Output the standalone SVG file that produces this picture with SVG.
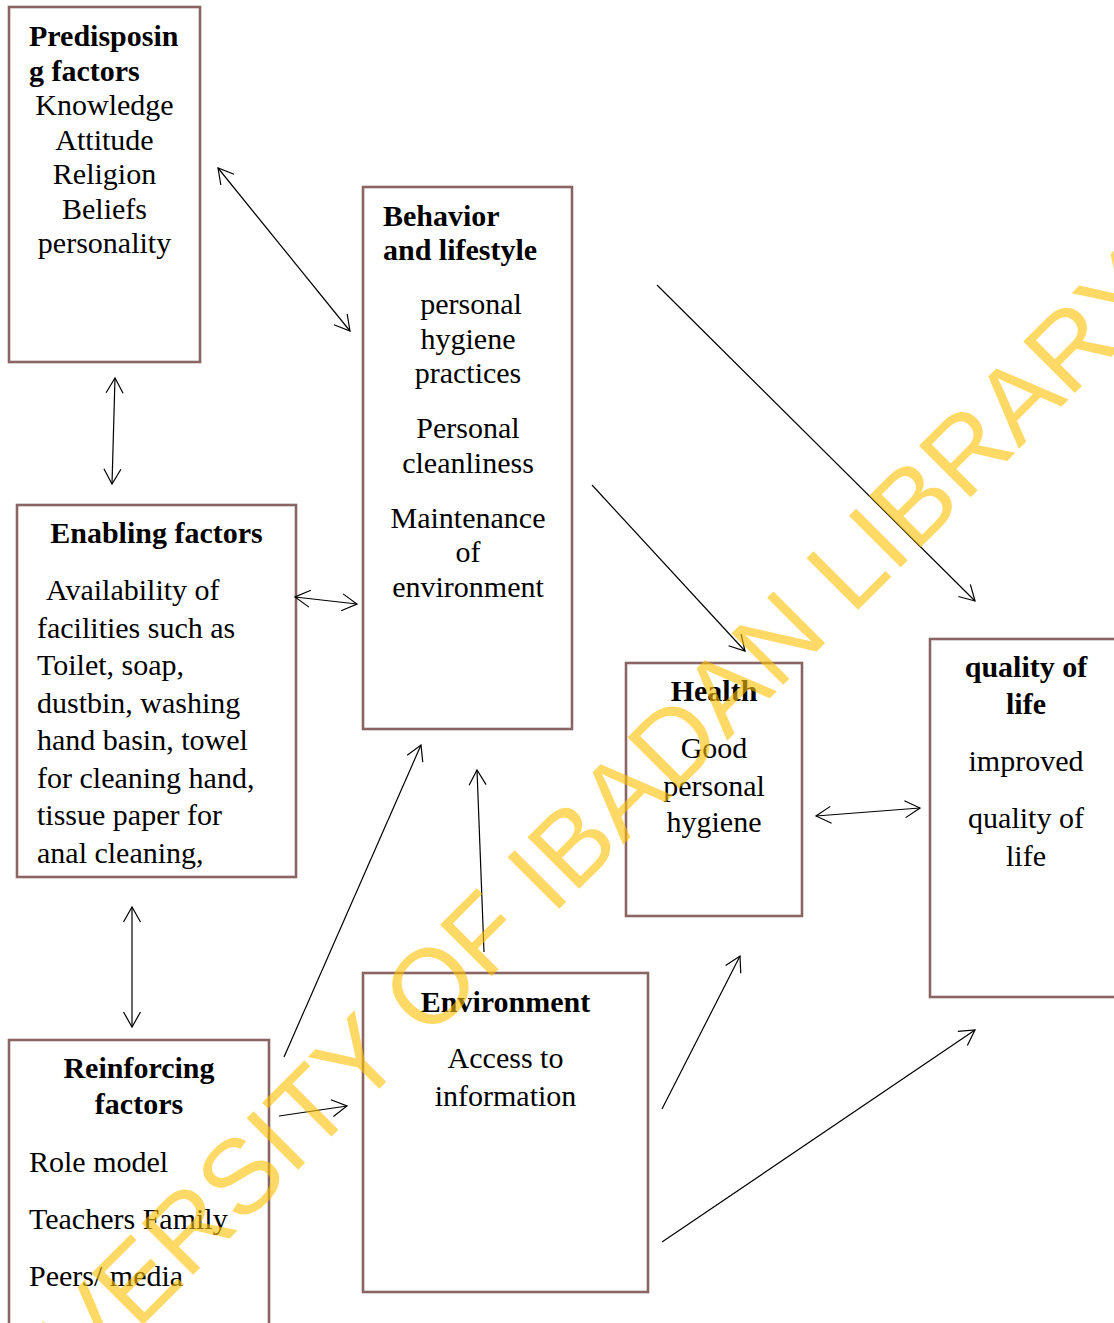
<svg xmlns="http://www.w3.org/2000/svg" width="1114" height="1323" viewBox="0 0 1114 1323">
<defs>
<style>
.box{fill:#fff;stroke:#8b6464;stroke-width:2.6}
.t{font-family:"Liberation Serif","Times New Roman",serif;font-size:30px;fill:#000}
.b{font-weight:bold}
.c{text-anchor:middle}
.ln{stroke:#000;stroke-width:1.2;fill:none}
.wm{font-family:"Liberation Sans",Arial,sans-serif;font-size:106px;fill:#ffc000;opacity:0.6}
</style>
<marker id="ah" viewBox="-17 -10 19 20" markerWidth="19" markerHeight="20" refX="0" refY="0" orient="auto-start-reverse" markerUnits="userSpaceOnUse">
<path d="M-15,-8.5 L0,0 L-15,8.5" fill="none" stroke="#000" stroke-width="1.2"/>
</marker>
</defs>
<rect width="1114" height="1323" fill="#fff"/>

<g id="predisposing">
<rect class="box" x="9" y="7" width="191" height="355"/>
<text class="t b" x="29" y="46">Predisposin</text>
<text class="t b" x="29" y="80.5">g factors</text>
<text class="t c" x="104.5" y="115">Knowledge</text>
<text class="t c" x="104.5" y="149.5">Attitude</text>
<text class="t c" x="104.5" y="184">Religion</text>
<text class="t c" x="104.5" y="218.5">Beliefs</text>
<text class="t c" x="104.5" y="253">personality</text>
</g>

<g id="behavior">
<rect class="box" x="363" y="187" width="209" height="542"/>
<text class="t b" x="383" y="226">Behavior</text>
<text class="t b" x="383" y="260">and lifestyle</text>
<text class="t c" x="471" y="314">personal</text>
<text class="t c" x="468" y="349">hygiene</text>
<text class="t c" x="468" y="383">practices</text>
<text class="t c" x="468" y="438">Personal</text>
<text class="t c" x="468" y="473">cleanliness</text>
<text class="t c" x="468" y="528">Maintenance</text>
<text class="t c" x="468" y="562">of</text>
<text class="t c" x="468" y="597">environment</text>
</g>

<g id="enabling">
<rect class="box" x="17" y="505" width="279" height="372"/>
<text class="t b c" x="156.5" y="543">Enabling factors</text>
<text class="t" x="46" y="600">Availability of</text>
<text class="t" x="37" y="637.5">facilities such as</text>
<text class="t" x="37" y="675">Toilet, soap,</text>
<text class="t" x="37" y="712.5">dustbin, washing</text>
<text class="t" x="37" y="750">hand basin, towel</text>
<text class="t" x="37" y="787.5">for cleaning hand,</text>
<text class="t" x="37" y="825">tissue paper for</text>
<text class="t" x="37" y="862.5">anal cleaning,</text>
</g>

<g id="reinforcing">
<rect class="box" x="9" y="1040" width="260" height="300"/>
<text class="t b c" x="139" y="1078">Reinforcing</text>
<text class="t b c" x="139" y="1114">factors</text>
<text class="t" x="29" y="1172">Role model</text>
<text class="t" x="29" y="1229">Teachers Family</text>
<text class="t" x="29" y="1286">Peers/ media</text>
</g>

<g id="environment">
<rect class="box" x="363" y="973" width="285" height="319"/>
<text class="t b c" x="505.5" y="1012">Environment</text>
<text class="t c" x="505.5" y="1068">Access to</text>
<text class="t c" x="505.5" y="1106">information</text>
</g>

<g id="health">
<rect class="box" x="626" y="663" width="176" height="253"/>
<text class="t b c" x="714" y="701">Health</text>
<text class="t c" x="714" y="758">Good</text>
<text class="t c" x="714" y="796">personal</text>
<text class="t c" x="714" y="832">hygiene</text>
</g>

<g id="quality">
<rect class="box" x="930" y="639" width="200" height="358"/>
<text class="t b c" x="1026" y="677">quality of</text>
<text class="t b c" x="1026" y="714">life</text>
<text class="t c" x="1026" y="771">improved</text>
<text class="t c" x="1026" y="828">quality of</text>
<text class="t c" x="1026" y="866">life</text>
</g>

<g id="connectors">
<line class="ln" x1="218" y1="168" x2="350" y2="331" marker-start="url(#ah)" marker-end="url(#ah)"/>
<line class="ln" x1="115" y1="378" x2="112" y2="484" marker-start="url(#ah)" marker-end="url(#ah)"/>
<line class="ln" x1="295" y1="597" x2="357" y2="604" marker-start="url(#ah)" marker-end="url(#ah)"/>
<line class="ln" x1="132" y1="907" x2="132" y2="1027" marker-start="url(#ah)" marker-end="url(#ah)"/>
<line class="ln" x1="284" y1="1057" x2="421" y2="745" marker-end="url(#ah)"/>
<line class="ln" x1="279" y1="1116" x2="347" y2="1106" marker-end="url(#ah)"/>
<line class="ln" x1="484" y1="952" x2="477" y2="770" marker-end="url(#ah)"/>
<line class="ln" x1="592" y1="485" x2="745" y2="651" marker-end="url(#ah)"/>
<line class="ln" x1="657" y1="285" x2="975" y2="601" marker-end="url(#ah)"/>
<line class="ln" x1="816" y1="816" x2="920" y2="808" marker-start="url(#ah)" marker-end="url(#ah)"/>
<line class="ln" x1="662" y1="1109" x2="740" y2="956" marker-end="url(#ah)"/>
<line class="ln" x1="662" y1="1242" x2="975" y2="1030" marker-end="url(#ah)"/>
</g>

<text class="wm" transform="translate(-42,1510) rotate(-45)">UNIVERSITY OF IBADAN LIBRARY</text>
</svg>
